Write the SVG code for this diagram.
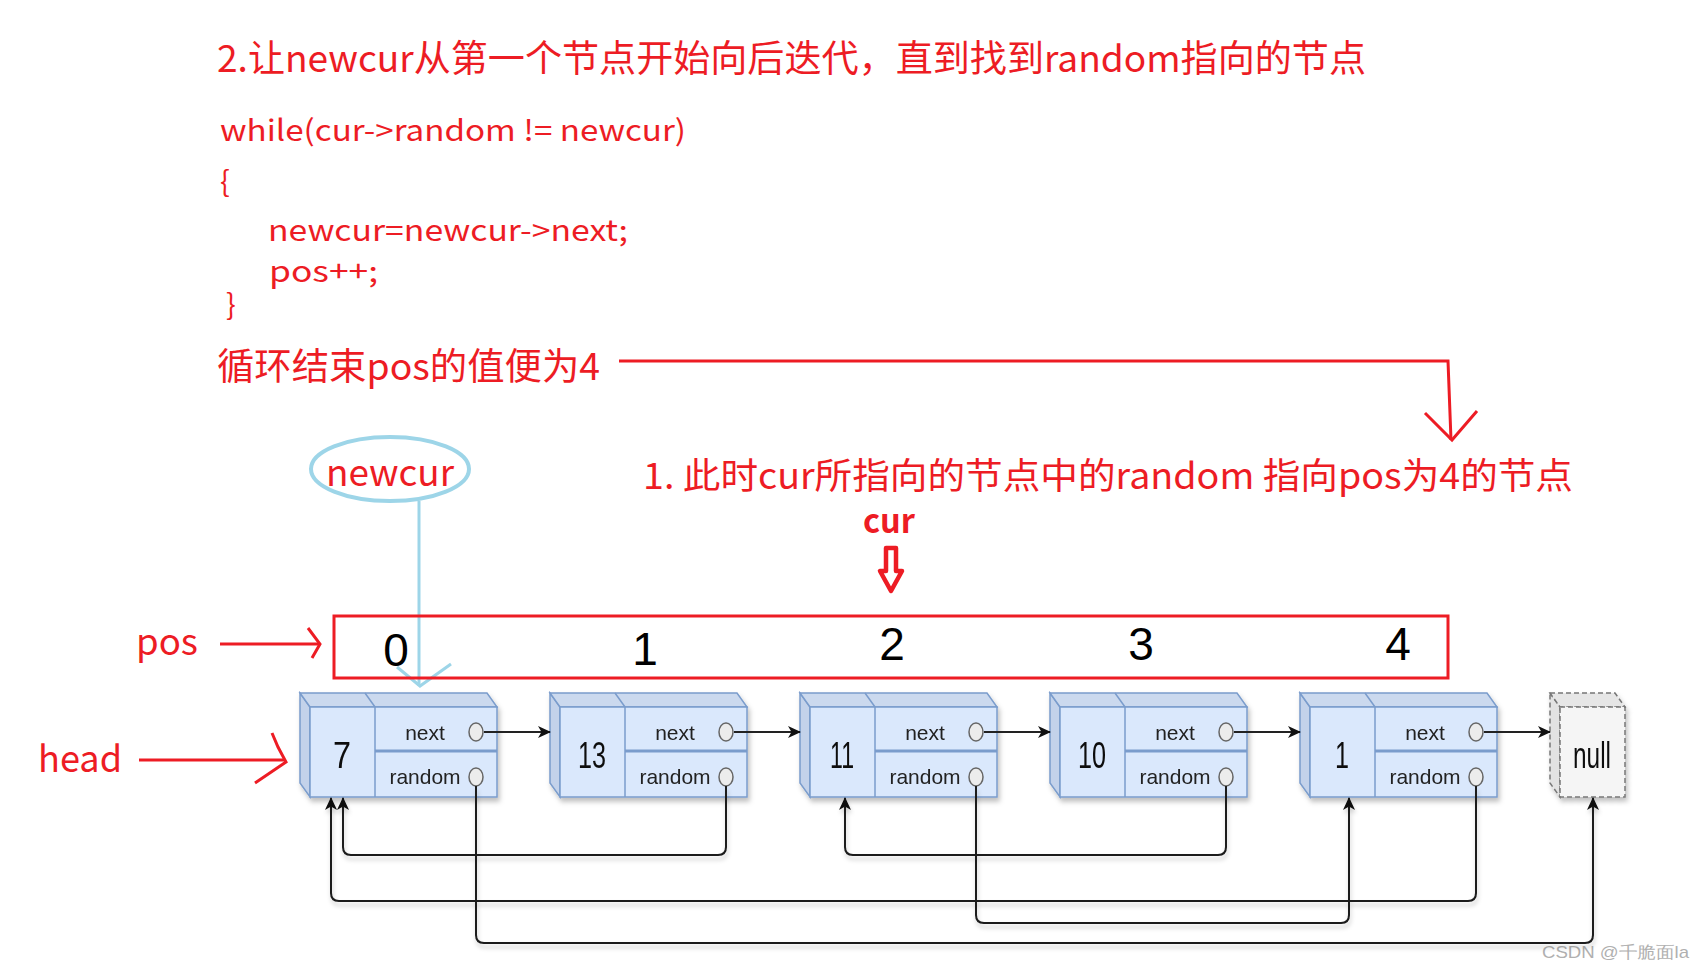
<svg xmlns="http://www.w3.org/2000/svg" width="1703" height="971" viewBox="0 0 1703 971">
<defs>
<style>
.red{fill:#ed1c24;font-family:"Noto Sans CJK SC","Liberation Sans",sans-serif}
.rl{stroke:#ed1c24;stroke-width:3;fill:none}
.side{fill:#c3d2ea;stroke:#7a9ccc;stroke-width:1.5}
.top{fill:#cbd9ee;stroke:#7a9ccc;stroke-width:1.5}
.front{fill:#dae8fc;stroke:#7a9ccc;stroke-width:1.5}
.dv{stroke:#7a9ccc;stroke-width:1.5}
.dh{stroke:#7a9ccc;stroke-width:3}
.val{font-family:"Liberation Sans",sans-serif;font-size:36px;fill:#111;text-anchor:middle}
.fld{font-family:"Liberation Sans",sans-serif;font-size:21px;fill:#222;text-anchor:middle}
.dot{fill:#ececec;stroke:#666;stroke-width:1.5}
.lnk{stroke:#222;stroke-width:2;fill:none}
.rnd{stroke:#1a1a1a;stroke-width:2;fill:none}
.num{font-family:"Liberation Sans",sans-serif;font-size:46px;fill:#000;text-anchor:middle}
.blue{stroke:#9dd5e8;fill:none}
</style>
<filter id="sh" x="-10%" y="-10%" width="130%" height="140%">
<feDropShadow dx="2" dy="4" stdDeviation="2.5" flood-color="#000" flood-opacity="0.25"/>
</filter>
<filter id="lsh" x="-5%" y="-20%" width="110%" height="160%">
<feDropShadow dx="1" dy="4" stdDeviation="2" flood-color="#000" flood-opacity="0.2"/>
</filter>
<marker id="ah" markerWidth="14" markerHeight="12" refX="12" refY="6" orient="auto" markerUnits="userSpaceOnUse">
<path d="M0,0 L13,6 L0,12 L3.5,6 Z" fill="#111"/>
</marker>
</defs>
<rect width="1703" height="971" fill="#fff"/>

<g id="texts">
<text class="red" x="217" y="72" font-size="37" textLength="1149" lengthAdjust="spacingAndGlyphs">2.让newcur从第一个节点开始向后迭代，直到找到random指向的节点</text>
<text class="red" x="220" y="141" font-size="29" textLength="466" lengthAdjust="spacingAndGlyphs">while(cur-&gt;random != newcur)</text>
<text class="red" x="220" y="192" font-size="29">{</text>
<text class="red" x="268" y="241" font-size="29" textLength="360" lengthAdjust="spacingAndGlyphs">newcur=newcur-&gt;next;</text>
<text class="red" x="269" y="282" font-size="29" textLength="109" lengthAdjust="spacingAndGlyphs">pos++;</text>
<text class="red" x="226" y="315" font-size="29">}</text>
<text class="red" x="217" y="380" font-size="37" textLength="383" lengthAdjust="spacingAndGlyphs">循环结束pos的值便为4</text>
<text class="red" x="643" y="489" font-size="36" textLength="930" lengthAdjust="spacingAndGlyphs">1. 此时cur所指向的节点中的random 指向pos为4的节点</text>
<text class="red" x="863" y="533" font-size="33" font-weight="bold" textLength="52" lengthAdjust="spacingAndGlyphs">cur</text>
<text class="red" x="326" y="486" font-size="36" textLength="128" lengthAdjust="spacingAndGlyphs">newcur</text>
<text class="red" x="136" y="655" font-size="36" textLength="62" lengthAdjust="spacingAndGlyphs">pos</text>
<text class="red" x="38" y="772" font-size="37" textLength="84" lengthAdjust="spacingAndGlyphs">head</text>
<text x="1542" y="958" font-family="Liberation Sans,sans-serif" font-size="17" fill="#b0b0b0" textLength="147" lengthAdjust="spacingAndGlyphs">CSDN @千脆面la</text>
</g>

<g id="annotations">
<polyline class="rl" points="619,361 1448,361 1451,440"/>
<polyline class="rl" points="1425,413 1452,440 1477,411"/>
<ellipse class="blue" cx="390" cy="469" rx="79" ry="32" stroke-width="4"/>
<line class="blue" x1="419" y1="501" x2="419" y2="686" stroke-width="3"/>
<polyline class="blue" points="397,667 420,686 451,664" stroke-width="3"/>
<polygon points="886,548 896,548 896,571 902,571 891,591 880,571 886,571" fill="#fff" stroke="#ed1c24" stroke-width="4.5" stroke-linejoin="round"/>
<line class="rl" x1="220" y1="644" x2="320" y2="644"/>
<polyline class="rl" points="308,628 320,644 312,658"/>
<line class="rl" x1="139" y1="760" x2="285" y2="760"/>
<polyline class="rl" points="272,733 278,747 286,762 255,783"/>
</g>

<g id="posbox">
<rect x="334" y="616" width="1114" height="62" fill="none" stroke="#ed1c24" stroke-width="3"/>
<text class="num" x="396" y="666">0</text>
<text class="num" x="645" y="665">1</text>
<text class="num" x="892" y="660">2</text>
<text class="num" x="1141" y="660">3</text>
<text class="num" x="1398" y="660">4</text>
</g>

<g id="node-7" transform="translate(300,693)" filter="url(#sh)">
<polygon class="side" points="0,0 10,14 10,104 0,90"/><polygon class="top" points="0,0 187,0 197,14 10,14"/><line class="dv" x1="65" y1="0" x2="75" y2="14"/>
<rect class="front" x="10" y="14" width="187" height="90"/><line class="dv" x1="75" y1="14" x2="75" y2="104"/><line class="dh" x1="75" y1="58" x2="197" y2="58"/>
<text class="val" x="42" y="75" textLength="18" lengthAdjust="spacingAndGlyphs">7</text>
<text class="fld" x="125" y="47">next</text><text class="fld" x="125" y="91">random</text>
<ellipse class="dot" cx="176" cy="39" rx="7" ry="9"/><ellipse class="dot" cx="176" cy="84" rx="7" ry="9"/>
</g>
<g id="node-13" transform="translate(550,693)" filter="url(#sh)">
<polygon class="side" points="0,0 10,14 10,104 0,90"/><polygon class="top" points="0,0 187,0 197,14 10,14"/><line class="dv" x1="65" y1="0" x2="75" y2="14"/>
<rect class="front" x="10" y="14" width="187" height="90"/><line class="dv" x1="75" y1="14" x2="75" y2="104"/><line class="dh" x1="75" y1="58" x2="197" y2="58"/>
<text class="val" x="42" y="75" textLength="28" lengthAdjust="spacingAndGlyphs">13</text>
<text class="fld" x="125" y="47">next</text><text class="fld" x="125" y="91">random</text>
<ellipse class="dot" cx="176" cy="39" rx="7" ry="9"/><ellipse class="dot" cx="176" cy="84" rx="7" ry="9"/>
</g>
<g id="node-11" transform="translate(800,693)" filter="url(#sh)">
<polygon class="side" points="0,0 10,14 10,104 0,90"/><polygon class="top" points="0,0 187,0 197,14 10,14"/><line class="dv" x1="65" y1="0" x2="75" y2="14"/>
<rect class="front" x="10" y="14" width="187" height="90"/><line class="dv" x1="75" y1="14" x2="75" y2="104"/><line class="dh" x1="75" y1="58" x2="197" y2="58"/>
<text class="val" x="42" y="75" textLength="24" lengthAdjust="spacingAndGlyphs">11</text>
<text class="fld" x="125" y="47">next</text><text class="fld" x="125" y="91">random</text>
<ellipse class="dot" cx="176" cy="39" rx="7" ry="9"/><ellipse class="dot" cx="176" cy="84" rx="7" ry="9"/>
</g>
<g id="node-10" transform="translate(1050,693)" filter="url(#sh)">
<polygon class="side" points="0,0 10,14 10,104 0,90"/><polygon class="top" points="0,0 187,0 197,14 10,14"/><line class="dv" x1="65" y1="0" x2="75" y2="14"/>
<rect class="front" x="10" y="14" width="187" height="90"/><line class="dv" x1="75" y1="14" x2="75" y2="104"/><line class="dh" x1="75" y1="58" x2="197" y2="58"/>
<text class="val" x="42" y="75" textLength="28" lengthAdjust="spacingAndGlyphs">10</text>
<text class="fld" x="125" y="47">next</text><text class="fld" x="125" y="91">random</text>
<ellipse class="dot" cx="176" cy="39" rx="7" ry="9"/><ellipse class="dot" cx="176" cy="84" rx="7" ry="9"/>
</g>
<g id="node-1" transform="translate(1300,693)" filter="url(#sh)">
<polygon class="side" points="0,0 10,14 10,104 0,90"/><polygon class="top" points="0,0 187,0 197,14 10,14"/><line class="dv" x1="65" y1="0" x2="75" y2="14"/>
<rect class="front" x="10" y="14" width="187" height="90"/><line class="dv" x1="75" y1="14" x2="75" y2="104"/><line class="dh" x1="75" y1="58" x2="197" y2="58"/>
<text class="val" x="42" y="75" textLength="14" lengthAdjust="spacingAndGlyphs">1</text>
<text class="fld" x="125" y="47">next</text><text class="fld" x="125" y="91">random</text>
<ellipse class="dot" cx="176" cy="39" rx="7" ry="9"/><ellipse class="dot" cx="176" cy="84" rx="7" ry="9"/>
</g>
<g id="node-null" transform="translate(1550,693)" filter="url(#sh)">
<polygon points="0,0 10,14 10,104 0,90" fill="#e2e2e2" stroke="#777" stroke-width="1.5" stroke-dasharray="5,3"/>
<polygon points="0,0 65,0 75,14 10,14" fill="#e6e6e6" stroke="#777" stroke-width="1.5" stroke-dasharray="5,3"/>
<rect x="10" y="14" width="65" height="90" fill="#f5f5f5" stroke="#777" stroke-width="1.5" stroke-dasharray="5,3"/>
<text class="val" x="42" y="75" fill="#222" textLength="38" lengthAdjust="spacingAndGlyphs">null</text>
</g>

<g id="connectors">
<g id="next-links">
<line class="lnk" x1="484" y1="732" x2="550" y2="732" marker-end="url(#ah)"/>
<line class="lnk" x1="734" y1="732" x2="800" y2="732" marker-end="url(#ah)"/>
<line class="lnk" x1="984" y1="732" x2="1050" y2="732" marker-end="url(#ah)"/>
<line class="lnk" x1="1234" y1="732" x2="1300" y2="732" marker-end="url(#ah)"/>
<line class="lnk" x1="1484" y1="732" x2="1550" y2="732" marker-end="url(#ah)"/>
</g>
<g id="random-links" filter="url(#lsh)">
<path class="rnd" d="M726,786 V847 Q726,855 718,855 H351 Q343,855 343,847 V798" marker-end="url(#ah)"/>
<path class="rnd" d="M1226,786 V847 Q1226,855 1218,855 H853 Q845,855 845,847 V798" marker-end="url(#ah)"/>
<path class="rnd" d="M1476,786 V893 Q1476,901 1468,901 H339 Q331,901 331,893 V798" marker-end="url(#ah)"/>
<path class="rnd" d="M976,786 V915 Q976,923 984,923 H1341 Q1349,923 1349,915 V798" marker-end="url(#ah)"/>
<path class="rnd" d="M476,786 V935 Q476,943 484,943 H1585 Q1593,943 1593,935 V798" marker-end="url(#ah)"/>
</g>
</g>
</svg>
